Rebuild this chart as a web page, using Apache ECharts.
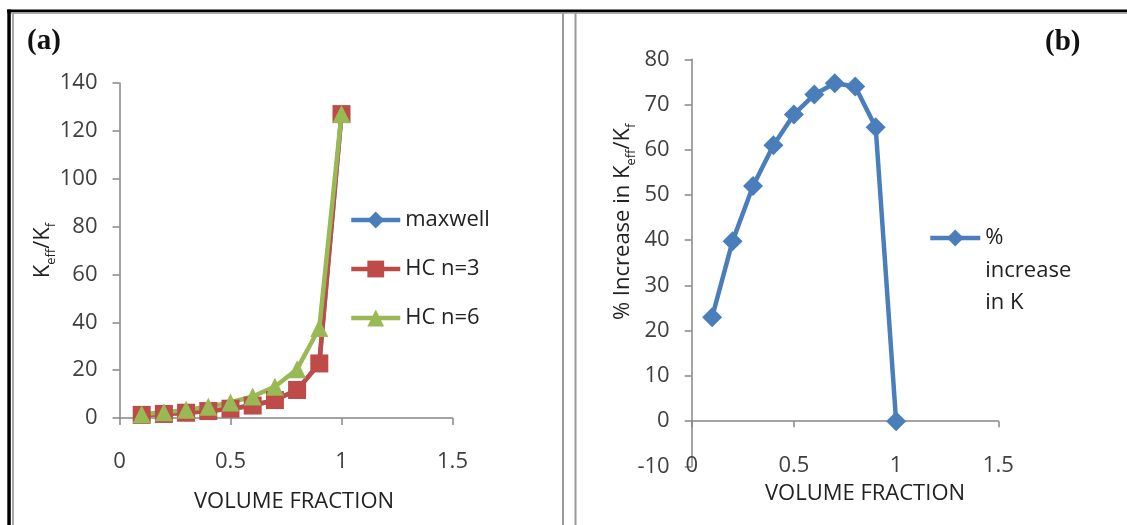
<!DOCTYPE html>
<html>
<head>
<meta charset="utf-8">
<script src="https://cdn.jsdelivr.net/npm/echarts@6/dist/echarts.min.js"></script>
<style>
html,body{margin:0;padding:0;background:#fff;}
#c{width:1127px;height:525px;}
</style>
</head>
<body>
<div id="c"></div>
<script>
// ---- data ----
var volumeFraction = [0.1, 0.2, 0.3, 0.4, 0.5, 0.6, 0.7, 0.8, 0.9, 1.0];
var maxwell = [1.3, 1.7, 2.2, 2.9, 3.9, 5.2, 7.5, 11.7, 22.8, 127];
var hcN3 = [1.3, 1.7, 2.2, 2.9, 3.9, 5.2, 7.5, 11.7, 22.8, 127];
var hcN6 = [1.6, 2.4, 3.4, 4.7, 6.5, 9.0, 13.1, 20.4, 37.6, 127];
var pctIncrease = [23.0, 39.8, 52.0, 61.0, 67.8, 72.2, 74.7, 74.0, 65.0, 0];
var seriesNamesA = ['maxwell', 'HC n=3', 'HC n=6'];
var seriesNameB = '% increase in K';
var xTicks = { min: 0, max: 1.5, interval: 0.5 };
var yTicksA = { min: 0, max: 140, interval: 20 };
var yTicksB = { min: -10, max: 80, interval: 10 };

function pairs(xs, ys) { return xs.map(function (x, i) { return [x, ys[i]]; }); }

var FONT = 'Open Sans';
var AX = '#868686';
var LBL = '#404040';
var BLUE = '#4A7EBB', RED = '#BE4B48', GREEN = '#98B954';

var chart = echarts.init(document.getElementById('c'), null, { renderer: 'canvas' });

var labelStyle = { fontFamily: FONT, fontSize: 22, color: LBL };
var subRich = {
  m: { fontFamily: FONT, fontSize: 22, color: '#222', lineHeight: 30, verticalAlign: 'middle' },
  s: { fontFamily: FONT, fontSize: 13, color: '#222', lineHeight: 13, verticalAlign: 'bottom' }
};

var option = {
  backgroundColor: '#fff',
  animation: false,
  grid: [
    { left: 119.5, top: 83, width: 333, height: 335 },
    { left: 691.7, top: 59.3, width: 306.6, height: 407.1 }
  ],
  xAxis: [
    {
      gridIndex: 0, type: 'value', min: xTicks.min, max: xTicks.max, interval: xTicks.interval,
      axisLine: { show: true, lineStyle: { color: AX, width: 1.5 } },
      axisTick: { show: true, length: 7, lineStyle: { color: AX, width: 1.5 } },
      axisLabel: Object.assign({ margin: 33 }, labelStyle),
      splitLine: { show: false },
      name: 'VOLUME FRACTION', nameLocation: 'middle', nameGap: 73, nameMoveOverlap: false,
      nameTextStyle: { fontFamily: FONT, fontSize: 22, color: '#222', padding: [0, 0, 0, 16] }
    },
    {
      gridIndex: 1, type: 'value', min: xTicks.min, max: xTicks.max, interval: xTicks.interval,
      position: 'bottom',
      axisLine: { show: false, onZero: false },
      axisTick: { show: false },
      axisLabel: Object.assign({ margin: -12 }, labelStyle),
      splitLine: { show: false },
      name: 'VOLUME FRACTION', nameLocation: 'middle', nameGap: 16, nameMoveOverlap: false,
      nameTextStyle: { fontFamily: FONT, fontSize: 22, color: '#222', padding: [0, 0, 0, 40] }
    },
    {
      gridIndex: 1, type: 'value', min: xTicks.min, max: xTicks.max, interval: xTicks.interval,
      position: 'top',
      axisLine: { show: true, onZero: true, lineStyle: { color: AX, width: 1.5 } },
      axisTick: { show: true, inside: true, length: 6, lineStyle: { color: AX, width: 1.5 } },
      axisLabel: { show: false },
      splitLine: { show: false }
    }
  ],
  yAxis: [
    {
      gridIndex: 0, type: 'value', min: yTicksA.min, max: yTicksA.max, interval: yTicksA.interval,
      axisLine: { show: true, lineStyle: { color: AX, width: 1.5 } },
      axisTick: { show: true, length: 7, lineStyle: { color: AX, width: 1.5 } },
      axisLabel: Object.assign({ margin: 22 }, labelStyle),
      splitLine: { show: false },
      name: '{m|K}{s|eff}{m|/K}{s|f}', nameLocation: 'middle', nameGap: 62, nameRotate: 90, nameMoveOverlap: false,
      nameTextStyle: { rich: subRich }
    },
    {
      gridIndex: 1, type: 'value', min: yTicksB.min, max: yTicksB.max, interval: yTicksB.interval,
      axisLine: { show: true, onZero: false, lineStyle: { color: AX, width: 1.5 } },
      axisTick: { show: true, length: 7, lineStyle: { color: AX, width: 1.5 } },
      axisLabel: Object.assign({ margin: 22 }, labelStyle),
      splitLine: { show: false },
      name: '{m|% Increase in K}{s|eff}{m|/K}{s|f}', nameLocation: 'middle', nameGap: 54, nameRotate: 90, nameMoveOverlap: false,
      nameTextStyle: { rich: subRich, padding: [0, 0, 0, 82] }
    }
  ],
  legend: [
    {
      data: seriesNamesA, orient: 'vertical', left: 349, top: 208, padding: 0,
      itemWidth: 49, itemHeight: 21, itemGap: 25,
      lineStyle: { width: 4.5 },
      textStyle: { fontFamily: FONT, fontSize: 22, color: '#222', lineHeight: 24 }
    },
    {
      data: [seriesNameB], orient: 'vertical', left: 928, top: 156.75, padding: 0,
      itemWidth: 50, itemHeight: 21,
      lineStyle: { width: 4.5 },
      formatter: function () { return ' \n \n%\nincrease\nin K'; },
      textStyle: { fontFamily: FONT, fontSize: 22, color: '#222', lineHeight: 32.5 }
    }
  ],
  series: [
    {
      name: seriesNamesA[0], type: 'line', xAxisIndex: 0, yAxisIndex: 0,
      data: pairs(volumeFraction, maxwell),
      symbol: 'diamond', symbolSize: 18,
      lineStyle: { color: BLUE, width: 4.5 }, itemStyle: { color: BLUE }
    },
    {
      name: seriesNamesA[1], type: 'line', xAxisIndex: 0, yAxisIndex: 0,
      data: pairs(volumeFraction, hcN3),
      symbol: 'rect', symbolSize: 18,
      lineStyle: { color: RED, width: 4.5 }, itemStyle: { color: RED }
    },
    {
      name: seriesNamesA[2], type: 'line', xAxisIndex: 0, yAxisIndex: 0,
      data: pairs(volumeFraction, hcN6),
      symbol: 'triangle', symbolSize: 18,
      lineStyle: { color: GREEN, width: 4.5 }, itemStyle: { color: GREEN }
    },
    {
      name: seriesNameB, type: 'line', xAxisIndex: 1, yAxisIndex: 1,
      data: pairs(volumeFraction, pctIncrease),
      symbol: 'diamond', symbolSize: 20,
      lineStyle: { color: BLUE, width: 4.5 }, itemStyle: { color: BLUE }
    }
  ],
  graphic: [
    { type: 'rect', shape: { x: 7, y: 9.5, width: 1120, height: 3 }, style: { fill: '#000' }, silent: true },
    { type: 'rect', shape: { x: 7, y: 12.5, width: 1120, height: 1.5 }, style: { fill: '#b0b0b0' }, silent: true },
    { type: 'rect', shape: { x: 7.3, y: 9.5, width: 3.5, height: 516 }, style: { fill: '#000' }, silent: true },
    { type: 'rect', shape: { x: 12, y: 12.5, width: 2, height: 513 }, style: { fill: '#a8a8a8' }, silent: true },
    { type: 'rect', shape: { x: 562, y: 12.5, width: 2, height: 513 }, style: { fill: '#9a9a9a' }, silent: true },
    { type: 'rect', shape: { x: 574.5, y: 12.5, width: 2, height: 513 }, style: { fill: '#9a9a9a' }, silent: true },
    { type: 'text', left: 27, top: 27, style: { text: '(a)', font: 'bold 29px "Liberation Serif"', fill: '#111' } },
    { type: 'text', left: 1045, top: 28, style: { text: '(b)', font: 'bold 29px "Liberation Serif"', fill: '#111' } }
  ]
};
chart.setOption(option);
</script>
</body>
</html>
